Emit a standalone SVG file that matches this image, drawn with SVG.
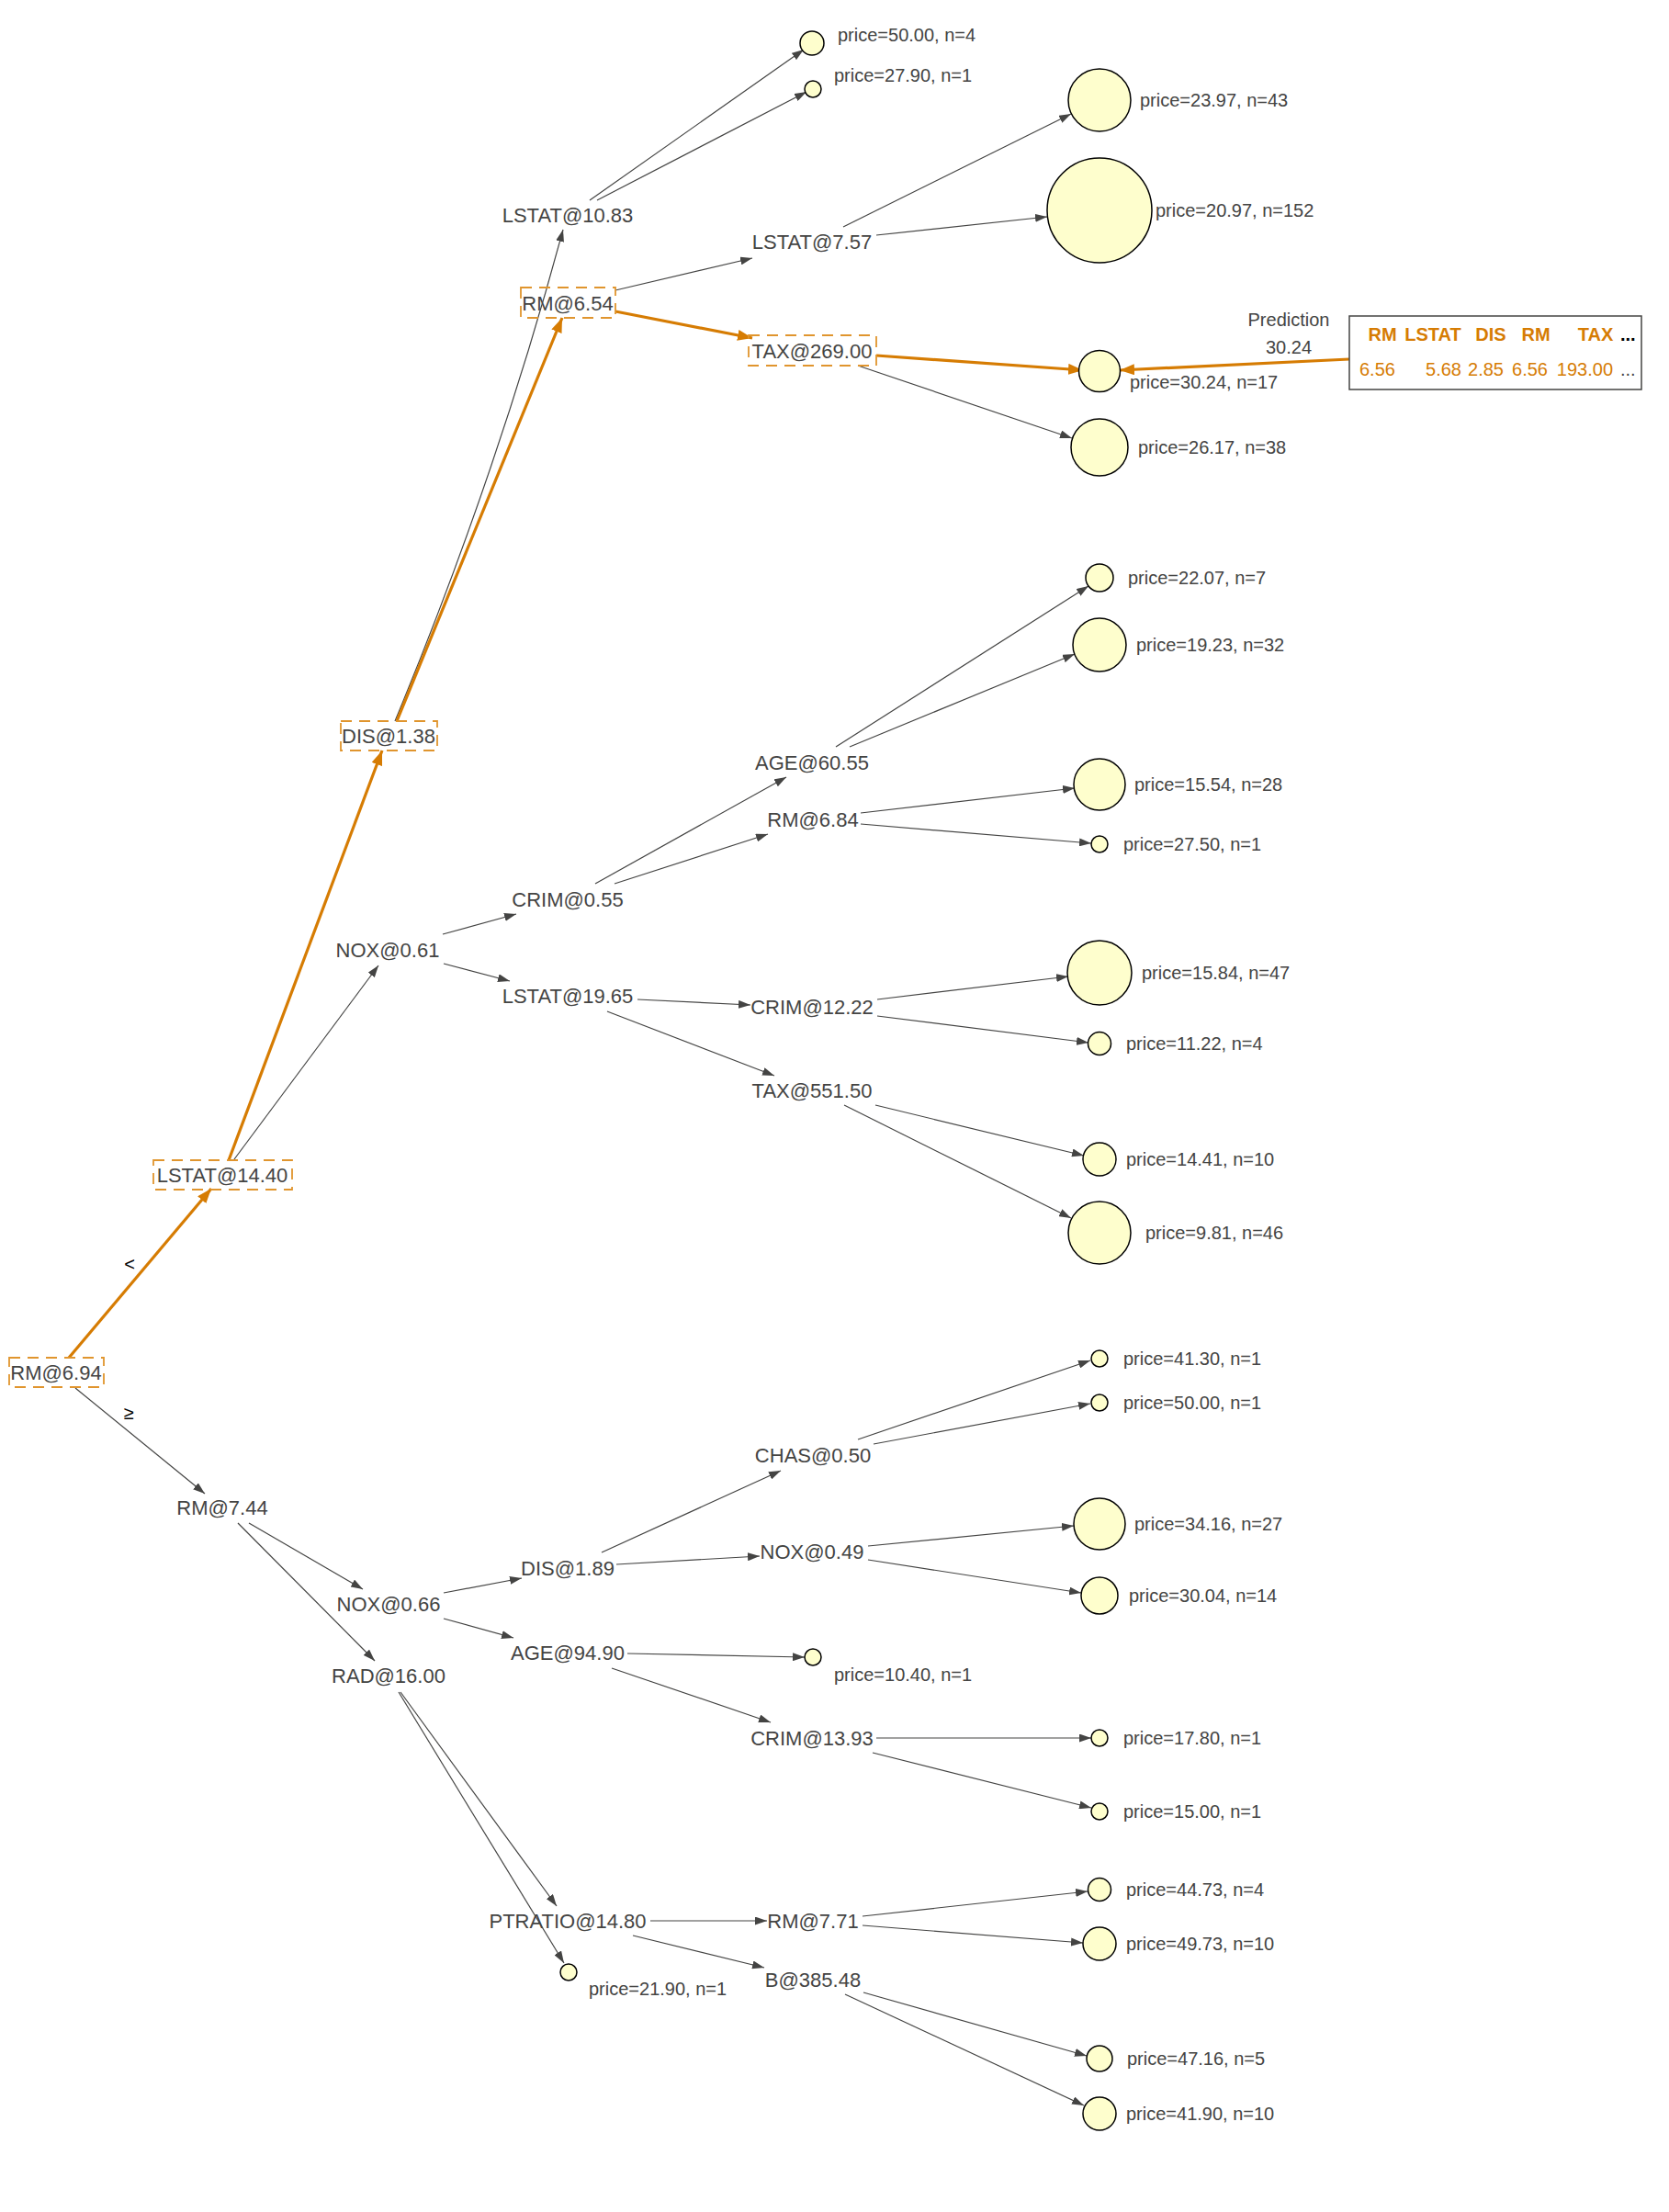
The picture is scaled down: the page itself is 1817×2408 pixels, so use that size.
<svg xmlns="http://www.w3.org/2000/svg" width="1817" height="2408" viewBox="0 0 1817 2408">
<style>
text{font-family:"Liberation Sans",Arial,Helvetica,sans-serif;fill:#444443}
.s{font-size:22px;text-anchor:middle}
.l{font-size:20px}
.leaf{fill:#fefecd;stroke:#000;stroke-width:1.5}
.e{fill:none;stroke:#444443;stroke-width:1.2;marker-end:url(#ag)}
.h{fill:none;stroke:#D67C03;stroke-width:3.2;marker-end:url(#ao)}
.hb{fill:none;stroke:#E0952E;stroke-width:1.8;stroke-dasharray:12 8}
.th{font-size:20px;font-weight:bold;fill:#D67C03}
.tv{font-size:20px;fill:#D67C03}
.el{font-size:20px;fill:#000}
</style>
<defs>
<marker id="ag" markerUnits="userSpaceOnUse" markerWidth="13" markerHeight="9" refX="13" refY="4.5" orient="auto"><path d="M0,0 L13,4.5 L0,9 z" fill="#444443"/></marker>
<marker id="ao" markerUnits="userSpaceOnUse" markerWidth="16" markerHeight="12" refX="16" refY="6" orient="auto"><path d="M0,0 L16,6 L0,12 z" fill="#D67C03"/></marker>
</defs>
<rect width="1817" height="2408" fill="#fff"/>

<g id="edges">
<line class="e" x1="82" y1="1511" x2="223" y2="1626"/>
<line class="e" x1="255" y1="1262" x2="412" y2="1051"/>
<path class="e" d="M430,785 Q541,517 613,250"/>
<line class="e" x1="642" y1="218" x2="875" y2="54"/>
<line class="e" x1="650" y1="218" x2="878" y2="100"/>
<line class="e" x1="670" y1="316" x2="819" y2="281"/>
<line class="e" x1="918" y1="247" x2="1166" y2="124"/>
<line class="e" x1="954" y1="256" x2="1140" y2="236"/>
<line class="e" x1="934" y1="398" x2="1167" y2="477"/>
<line class="e" x1="482" y1="1017" x2="562" y2="995"/>
<line class="e" x1="483" y1="1049" x2="555" y2="1068"/>
<line class="e" x1="648" y1="962" x2="856" y2="846"/>
<line class="e" x1="669" y1="962" x2="836" y2="908"/>
<line class="e" x1="910" y1="813" x2="1185" y2="638"/>
<line class="e" x1="925" y1="813" x2="1170" y2="712"/>
<line class="e" x1="937" y1="885" x2="1170" y2="858"/>
<line class="e" x1="937" y1="897" x2="1188" y2="918"/>
<line class="e" x1="694" y1="1088" x2="817" y2="1094"/>
<line class="e" x1="661" y1="1101" x2="843" y2="1171"/>
<line class="e" x1="955" y1="1088" x2="1163" y2="1063"/>
<line class="e" x1="955" y1="1106" x2="1185" y2="1135"/>
<line class="e" x1="953" y1="1203" x2="1180" y2="1258"/>
<line class="e" x1="919" y1="1203" x2="1166" y2="1326"/>
<line class="e" x1="271" y1="1658" x2="395" y2="1730"/>
<line class="e" x1="259" y1="1658" x2="408" y2="1808"/>
<line class="e" x1="483" y1="1734" x2="568" y2="1718"/>
<line class="e" x1="483" y1="1762" x2="559" y2="1783"/>
<line class="e" x1="655" y1="1690" x2="850" y2="1601"/>
<line class="e" x1="671" y1="1703" x2="827" y2="1694"/>
<line class="e" x1="683" y1="1800" x2="876" y2="1804"/>
<line class="e" x1="666" y1="1816" x2="839" y2="1875"/>
<line class="e" x1="934" y1="1567" x2="1187" y2="1481"/>
<line class="e" x1="951" y1="1572" x2="1187" y2="1528"/>
<line class="e" x1="945" y1="1683" x2="1169" y2="1661"/>
<line class="e" x1="945" y1="1698" x2="1177" y2="1734"/>
<line class="e" x1="954" y1="1892" x2="1188" y2="1892"/>
<line class="e" x1="950" y1="1908" x2="1188" y2="1968"/>
<line class="e" x1="436" y1="1842" x2="606" y2="2075"/>
<line class="e" x1="434" y1="1842" x2="614" y2="2137"/>
<line class="e" x1="708" y1="2091" x2="835" y2="2091"/>
<line class="e" x1="689" y1="2107" x2="832" y2="2142"/>
<line class="e" x1="939" y1="2086" x2="1184" y2="2059"/>
<line class="e" x1="939" y1="2096" x2="1179" y2="2115"/>
<line class="e" x1="940" y1="2169" x2="1183" y2="2238"/>
<line class="e" x1="920" y1="2171" x2="1180" y2="2292"/>
<line class="h" x1="75" y1="1478" x2="230" y2="1294"/>
<line class="h" x1="249" y1="1263" x2="416" y2="817"/>
<line class="h" x1="432" y1="785" x2="612" y2="346"/>
<line class="h" x1="670" y1="339" x2="819" y2="368"/>
<line class="h" x1="954" y1="387" x2="1179" y2="403"/>
<line class="h" x1="1469" y1="391" x2="1219" y2="403"/>
<text class="el" x="141" y="1383" text-anchor="middle">&lt;</text>
<text class="el" x="140" y="1545" text-anchor="middle">≥</text>
</g>

<g id="n_rm694"><rect class="hb" x="10" y="1478" width="103" height="32"/><text class="s" x="61" y="1502">RM@6.94</text></g>
<g id="n_lstat1440"><rect class="hb" x="167" y="1263" width="151" height="32"/><text class="s" x="242" y="1287">LSTAT@14.40</text></g>
<g id="n_dis138"><rect class="hb" x="371" y="785" width="105" height="32"/><text class="s" x="423" y="809">DIS@1.38</text></g>
<g id="n_lstat1083"><text class="s" x="618" y="242">LSTAT@10.83</text></g>
<g id="n_rm654"><rect class="hb" x="567" y="313" width="103" height="33"/><text class="s" x="618" y="338">RM@6.54</text></g>
<g id="n_lstat757"><text class="s" x="884" y="271">LSTAT@7.57</text></g>
<g id="n_tax26900"><rect class="hb" x="815" y="365" width="139" height="33"/><text class="s" x="884" y="390">TAX@269.00</text></g>
<g id="n_nox061"><text class="s" x="422" y="1042">NOX@0.61</text></g>
<g id="n_crim055"><text class="s" x="618" y="987">CRIM@0.55</text></g>
<g id="n_age6055"><text class="s" x="884" y="838">AGE@60.55</text></g>
<g id="n_rm684"><text class="s" x="885" y="900">RM@6.84</text></g>
<g id="n_lstat1965"><text class="s" x="618" y="1092">LSTAT@19.65</text></g>
<g id="n_crim1222"><text class="s" x="884" y="1104">CRIM@12.22</text></g>
<g id="n_tax55150"><text class="s" x="884" y="1195">TAX@551.50</text></g>
<g id="n_rm744"><text class="s" x="242" y="1649">RM@7.44</text></g>
<g id="n_nox066"><text class="s" x="423" y="1754">NOX@0.66</text></g>
<g id="n_rad1600"><text class="s" x="423" y="1832">RAD@16.00</text></g>
<g id="n_dis189"><text class="s" x="618" y="1715">DIS@1.89</text></g>
<g id="n_age9490"><text class="s" x="618" y="1807">AGE@94.90</text></g>
<g id="n_chas050"><text class="s" x="885" y="1592">CHAS@0.50</text></g>
<g id="n_nox049"><text class="s" x="884" y="1697">NOX@0.49</text></g>
<g id="n_crim1393"><text class="s" x="884" y="1900">CRIM@13.93</text></g>
<g id="n_ptratio1480"><text class="s" x="618" y="2099">PTRATIO@14.80</text></g>
<g id="n_rm771"><text class="s" x="885" y="2099">RM@7.71</text></g>
<g id="n_b38548"><text class="s" x="885" y="2163">B@385.48</text></g>

<g id="leaf1"><circle class="leaf" cx="884" cy="47" r="13"/><text class="l" x="912" y="45">price=50.00, n=4</text></g>
<g id="leaf2"><circle class="leaf" cx="885" cy="97" r="9"/><text class="l" x="908" y="89">price=27.90, n=1</text></g>
<g id="leaf3"><circle class="leaf" cx="1197" cy="109" r="34"/><text class="l" x="1241" y="116">price=23.97, n=43</text></g>
<g id="leaf4"><circle class="leaf" cx="1197" cy="229" r="57"/><text class="l" x="1258" y="236">price=20.97, n=152</text></g>
<g id="leaf5"><circle class="leaf" cx="1197" cy="404" r="22.5"/><text class="l" x="1230" y="423">price=30.24, n=17</text></g>
<g id="leaf6"><circle class="leaf" cx="1197" cy="487" r="31"/><text class="l" x="1239" y="494">price=26.17, n=38</text></g>
<g id="leaf7"><circle class="leaf" cx="1197" cy="629" r="15"/><text class="l" x="1228" y="636">price=22.07, n=7</text></g>
<g id="leaf8"><circle class="leaf" cx="1197" cy="702" r="29"/><text class="l" x="1237" y="709">price=19.23, n=32</text></g>
<g id="leaf9"><circle class="leaf" cx="1197" cy="854" r="28"/><text class="l" x="1235" y="861">price=15.54, n=28</text></g>
<g id="leaf10"><circle class="leaf" cx="1197" cy="919" r="9"/><text class="l" x="1223" y="926">price=27.50, n=1</text></g>
<g id="leaf11"><circle class="leaf" cx="1197" cy="1059" r="35"/><text class="l" x="1243" y="1066">price=15.84, n=47</text></g>
<g id="leaf12"><circle class="leaf" cx="1197" cy="1136" r="12.5"/><text class="l" x="1226" y="1143">price=11.22, n=4</text></g>
<g id="leaf13"><circle class="leaf" cx="1197" cy="1262" r="18"/><text class="l" x="1226" y="1269">price=14.41, n=10</text></g>
<g id="leaf14"><circle class="leaf" cx="1197" cy="1342" r="34"/><text class="l" x="1247" y="1349">price=9.81, n=46</text></g>
<g id="leaf15"><circle class="leaf" cx="1197" cy="1479" r="9"/><text class="l" x="1223" y="1486">price=41.30, n=1</text></g>
<g id="leaf16"><circle class="leaf" cx="1197" cy="1527" r="9"/><text class="l" x="1223" y="1534">price=50.00, n=1</text></g>
<g id="leaf17"><circle class="leaf" cx="1197" cy="1659" r="28"/><text class="l" x="1235" y="1666">price=34.16, n=27</text></g>
<g id="leaf18"><circle class="leaf" cx="1197" cy="1737" r="20"/><text class="l" x="1229" y="1744">price=30.04, n=14</text></g>
<g id="leaf19"><circle class="leaf" cx="885" cy="1804" r="9"/><text class="l" x="908" y="1830">price=10.40, n=1</text></g>
<g id="leaf20"><circle class="leaf" cx="1197" cy="1892" r="9"/><text class="l" x="1223" y="1899">price=17.80, n=1</text></g>
<g id="leaf21"><circle class="leaf" cx="1197" cy="1972" r="9"/><text class="l" x="1223" y="1979">price=15.00, n=1</text></g>
<g id="leaf22"><circle class="leaf" cx="619" cy="2147" r="9"/><text class="l" x="641" y="2172">price=21.90, n=1</text></g>
<g id="leaf23"><circle class="leaf" cx="1197" cy="2057" r="12.5"/><text class="l" x="1226" y="2064">price=44.73, n=4</text></g>
<g id="leaf24"><circle class="leaf" cx="1197" cy="2116" r="18"/><text class="l" x="1226" y="2123">price=49.73, n=10</text></g>
<g id="leaf25"><circle class="leaf" cx="1197" cy="2241" r="14"/><text class="l" x="1227" y="2248">price=47.16, n=5</text></g>
<g id="leaf26"><circle class="leaf" cx="1197" cy="2301" r="18"/><text class="l" x="1226" y="2308">price=41.90, n=10</text></g>

<g id="prediction">
<text class="l" x="1403" y="355" text-anchor="middle">Prediction</text>
<text class="l" x="1403" y="385" text-anchor="middle">30.24</text>
<rect x="1469" y="344" width="318" height="80" fill="#fff" stroke="#444443" stroke-width="1.5"/>
<text class="th" x="1505" y="371" text-anchor="middle">RM</text>
<text class="th" x="1560" y="371" text-anchor="middle">LSTAT</text>
<text class="th" x="1623" y="371" text-anchor="middle">DIS</text>
<text class="th" x="1672" y="371" text-anchor="middle">RM</text>
<text class="th" x="1737" y="371" text-anchor="middle">TAX</text>
<text x="1764" y="371" style="font-size:20px;font-weight:bold;fill:#000">...</text>
<text class="tv" x="1480" y="409">6.56</text>
<text class="tv" x="1591" y="409" text-anchor="end">5.68</text>
<text class="tv" x="1637" y="409" text-anchor="end">2.85</text>
<text class="tv" x="1685" y="409" text-anchor="end">6.56</text>
<text class="tv" x="1756" y="409" text-anchor="end">193.00</text>
<text x="1764" y="409" style="font-size:20px">...</text>
</g>
</svg>
